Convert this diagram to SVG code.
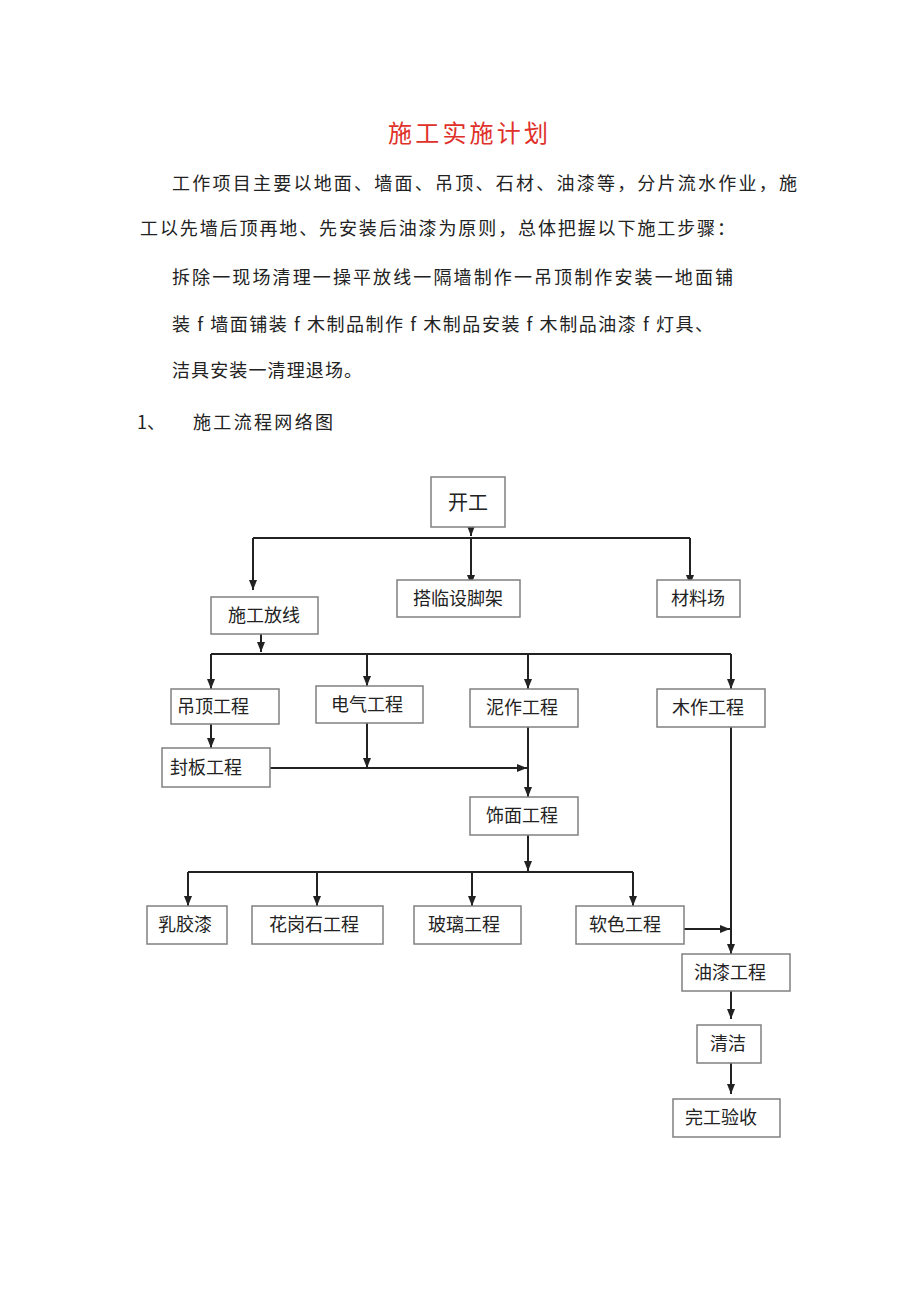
<svg xmlns="http://www.w3.org/2000/svg" width="920" height="1301" viewBox="0 0 920 1301">
<style>
.t{font-family:"Noto Sans CJK SC","Noto Sans CJK JP",sans-serif;fill:#222;}
.p{font-size:18px;}
.bx rect{fill:#fff;stroke:#808080;stroke-width:1.5;}
.bx text{font-family:"Noto Sans CJK SC","Noto Sans CJK JP",sans-serif;font-size:18px;fill:#222;text-anchor:middle;}
.c path{fill:none;stroke:#222;stroke-width:2;}
</style>
<defs>
<marker id="ah" markerUnits="userSpaceOnUse" markerWidth="10" markerHeight="10" viewBox="0 0 10 10" refX="10" refY="5" orient="auto">
<path d="M0,1 L10,5 L0,9 Z" fill="#222"/>
</marker>
</defs>
<rect width="920" height="1301" fill="#fff"/>
<g id="text">
<text class="t" x="468" y="142" font-size="24" fill="#e0302a" style="fill:#e0302a" text-anchor="middle" textLength="160">施工实施计划</text>
<text class="t p" x="172" y="190" textLength="625">工作项目主要以地面、墙面、吊顶、石材、油漆等，分片流水作业，施</text>
<text class="t p" x="140" y="235" textLength="595">工以先墙后顶再地、先安装后油漆为原则，总体把握以下施工步骤：</text>
<text class="t p" x="172" y="284" textLength="561">拆除一现场清理一操平放线一隔墙制作一吊顶制作安装一地面铺</text>
<text class="t p" x="172" y="331" textLength="541">装 f 墙面铺装 f 木制品制作 f 木制品安装 f 木制品油漆 f 灯具、</text>
<text class="t p" x="172" y="377" textLength="190">洁具安装一清理退场。</text>
<text class="t p" x="137" y="429">1、</text>
<text class="t p" x="193" y="429" textLength="140">施工流程网络图</text>
</g>
<g class="c" id="connectors">
<path d="M471,520 V536" marker-end="url(#ah)"/>
<path d="M253,538 H690"/>
<path d="M471,538 V585" marker-end="url(#ah)"/>
<path d="M253,538 V590" marker-end="url(#ah)"/>
<path d="M690,538 V585" marker-end="url(#ah)"/>
<path d="M261,634 V652" marker-end="url(#ah)"/>
<path d="M211,654 H731"/>
<path d="M211,654 V689" marker-end="url(#ah)"/>
<path d="M367,654 V686" marker-end="url(#ah)"/>
<path d="M528,654 V689" marker-end="url(#ah)"/>
<path d="M731,654 V689" marker-end="url(#ah)"/>
<path d="M211,724 V748" marker-end="url(#ah)"/>
<path d="M367,723 V768" marker-end="url(#ah)"/>
<path d="M270,768 H527" marker-end="url(#ah)"/>
<path d="M528,727 V797" marker-end="url(#ah)"/>
<path d="M528,835 V871" marker-end="url(#ah)"/>
<path d="M188,872 H633"/>
<path d="M188,872 V906" marker-end="url(#ah)"/>
<path d="M317,872 V906" marker-end="url(#ah)"/>
<path d="M472,872 V906" marker-end="url(#ah)"/>
<path d="M633,872 V906" marker-end="url(#ah)"/>
<path d="M731,727 V954" marker-end="url(#ah)"/>
<path d="M684,929 H730" marker-end="url(#ah)"/>
<path d="M731,991 V1019" marker-end="url(#ah)"/>
<path d="M731,1063 V1094" marker-end="url(#ah)"/>
</g>
<g class="bx" id="n-kaigong"><rect x="431" y="477" width="74" height="50"/><text x="468" y="510" style="font-size:20px">开工</text></g>
<g class="bx" id="n-fangxian"><rect x="211" y="597" width="107" height="37"/><text x="264" y="622">施工放线</text></g>
<g class="bx" id="n-jiaoshoujia"><rect x="397" y="580" width="123" height="37"/><text x="458" y="605">搭临设脚架</text></g>
<g class="bx" id="n-cailiao"><rect x="657" y="580" width="83" height="37"/><text x="698" y="605">材料场</text></g>
<g class="bx" id="n-diaoding"><rect x="171" y="689" width="108" height="35"/><text x="213" y="713">吊顶工程</text></g>
<g class="bx" id="n-dianqi"><rect x="316" y="686" width="107" height="37"/><text x="367" y="711">电气工程</text></g>
<g class="bx" id="n-nizuo"><rect x="470" y="689" width="108" height="38"/><text x="522" y="714">泥作工程</text></g>
<g class="bx" id="n-muzuo"><rect x="657" y="689" width="108" height="38"/><text x="708" y="714">木作工程</text></g>
<g class="bx" id="n-fengban"><rect x="162" y="748" width="108" height="39"/><text x="206" y="774">封板工程</text></g>
<g class="bx" id="n-shimian"><rect x="470" y="797" width="108" height="38"/><text x="522" y="822">饰面工程</text></g>
<g class="bx" id="n-rujiaoqi"><rect x="147" y="906" width="80" height="38"/><text x="185" y="931">乳胶漆</text></g>
<g class="bx" id="n-huagangshi"><rect x="252" y="906" width="131" height="38"/><text x="314" y="931">花岗石工程</text></g>
<g class="bx" id="n-boli"><rect x="414" y="906" width="107" height="38"/><text x="464" y="931">玻璃工程</text></g>
<g class="bx" id="n-ruanse"><rect x="576" y="906" width="108" height="38"/><text x="625" y="931">软色工程</text></g>
<g class="bx" id="n-youqi"><rect x="682" y="954" width="108" height="37"/><text x="730" y="979">油漆工程</text></g>
<g class="bx" id="n-qingjie"><rect x="697" y="1025" width="64" height="38"/><text x="728" y="1050">清洁</text></g>
<g class="bx" id="n-wangong"><rect x="673" y="1099" width="107" height="38"/><text x="721" y="1124">完工验收</text></g>
</svg>
